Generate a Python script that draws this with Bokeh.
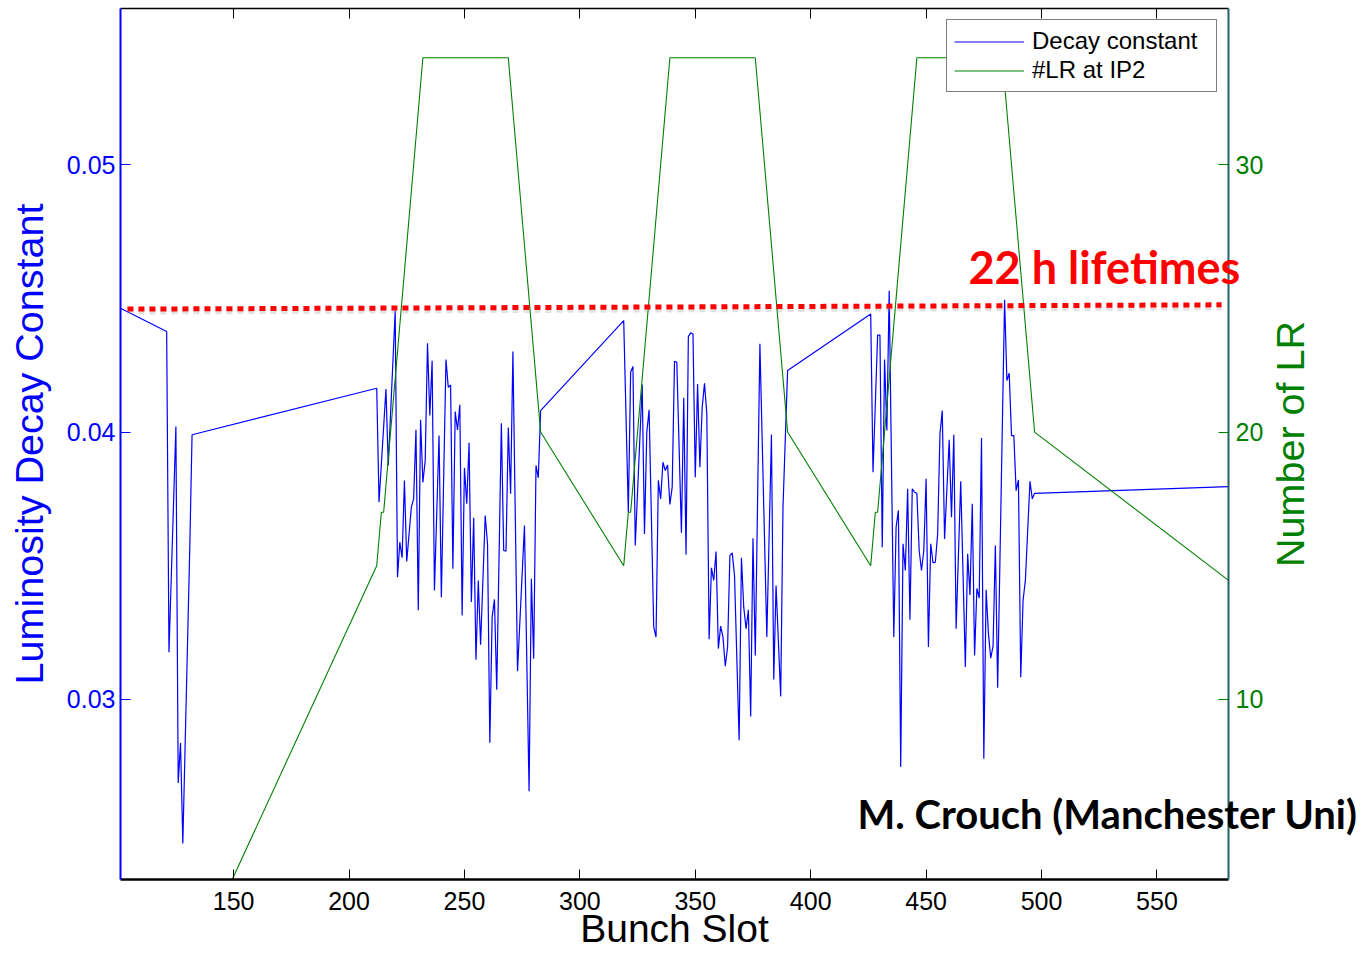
import math
from bokeh.plotting import figure
from bokeh.layouts import row
from bokeh.models import (Range1d, LinearAxis, FixedTicker, PrintfTickFormatter,
                          CustomJSTickFormatter, Legend, LegendItem, Label)
from bokeh.embed import file_html
from bokeh.resources import INLINE

# Luminosity decay constant per bunch slot
decay_slots = [
    101, 121, 122, 125, 126, 127, 128, 131, 132,
    212, 213, 216, 217, 220, 221, 222, 223, 224, 225, 227, 228, 229, 230, 231, 232,
    233, 234, 235, 236, 237, 239, 240, 242, 243, 244, 245, 246, 247, 248, 249, 250,
    251, 252, 253, 254, 255, 256, 257, 259, 260, 261, 262, 263, 264, 266, 267, 268,
    269, 270, 271, 273, 276, 278, 279, 280, 281, 282, 283,
    319, 321, 322, 323, 324, 327, 328, 329, 330, 332, 333, 334, 335, 336, 337, 338,
    339, 340, 341, 342, 344, 345, 346, 347, 348, 349, 350, 351, 352, 353, 354, 355,
    356, 357, 358, 359, 360, 361, 362, 363, 364, 365, 366, 367, 369, 370, 371, 372,
    373, 374, 375, 376, 378, 381, 383, 384, 385, 387, 388, 390,
    426, 427, 429, 430, 431, 432, 433, 434, 436, 437, 438, 439, 440, 441, 442, 443,
    444, 445, 446, 447, 448, 449, 450, 451, 452, 453, 454, 455, 456, 457, 458, 460,
    461, 462, 463, 465, 467, 468, 469, 470, 471, 472, 473, 474, 475, 476, 477, 478,
    479, 480, 481, 484, 485, 486, 487, 488, 489, 490, 491, 492, 493, 495, 496, 497,
    581,
]
decay_values = [
    0.04463, 0.04376, 0.03176, 0.04021, 0.02687, 0.02837, 0.02461, 0.03563, 0.03990,
    0.04164, 0.03738, 0.04161, 0.03875, 0.04454, 0.03457, 0.03588, 0.03530, 0.03819,
    0.03516, 0.03719, 0.03751, 0.04009, 0.03333, 0.04046, 0.03812, 0.03893, 0.04332,
    0.04062, 0.04267, 0.03407, 0.03987, 0.03382, 0.04271, 0.04167, 0.04176, 0.03489,
    0.04077, 0.04008, 0.04102, 0.03314, 0.03866, 0.03732, 0.03960, 0.03364, 0.03679,
    0.03148, 0.03445, 0.03204, 0.03688, 0.03582, 0.02838, 0.03308, 0.03374, 0.03036,
    0.04033, 0.03557, 0.03554, 0.04017, 0.03769, 0.04301, 0.03105, 0.03650, 0.02656,
    0.03451, 0.03152, 0.03875, 0.03829, 0.04080,
    0.04417, 0.03700, 0.04224, 0.04245, 0.03576, 0.04178, 0.03619, 0.04000, 0.04083,
    0.03270, 0.03233, 0.03819, 0.03750, 0.03887, 0.03856, 0.03877, 0.03729, 0.03794,
    0.04265, 0.04261, 0.03623, 0.04128, 0.03541, 0.04357, 0.04371, 0.04367, 0.03831,
    0.04180, 0.03868, 0.04093, 0.04182, 0.04068, 0.03225, 0.03492, 0.03445, 0.03553,
    0.03190, 0.03274, 0.03233, 0.03124, 0.03196, 0.03538, 0.03548, 0.03464, 0.02847,
    0.03530, 0.03345, 0.03264, 0.03335, 0.02936, 0.03603, 0.03164, 0.04330, 0.03233,
    0.03991, 0.03074, 0.03426, 0.03011, 0.03719, 0.04230,
    0.04442, 0.03850, 0.04363, 0.04363, 0.03569, 0.04271, 0.04006, 0.04529, 0.03233,
    0.03644, 0.03707, 0.02747, 0.03582, 0.03482, 0.03788, 0.03298, 0.03788, 0.03775,
    0.03771, 0.03557, 0.03482, 0.03557, 0.03825, 0.03196, 0.03582, 0.03510, 0.03513,
    0.03619, 0.03993, 0.04080, 0.03600, 0.03971, 0.03681, 0.03990, 0.03264, 0.03816,
    0.03121, 0.03545, 0.03391, 0.03732, 0.03164, 0.03415, 0.03379, 0.03978, 0.02778,
    0.03410, 0.03246, 0.03154, 0.03199, 0.03576, 0.03044, 0.04495, 0.04193, 0.04220,
    0.03987, 0.03987, 0.03781, 0.03821, 0.03083, 0.03370, 0.03445, 0.03816, 0.03750,
    0.03771,
    0.03796,
]

# Number of long-range encounters at IP2
lr_slots = [122, 132, 212, 214, 215, 232, 269, 283, 319, 321, 322, 339, 376, 390,
            426, 428, 429, 446, 483, 497, 581]
lr_values = [0, 0, 15, 17, 17, 34, 34, 20, 15, 17, 17, 34, 34, 20,
             15, 17, 17, 34, 34, 20, 14.45]

# 22 h lifetime reference level
ref_slots = [104, 578]
ref_decay = [0.04460, 0.04476]

x_ticks = [150, 200, 250, 300, 350, 400, 450, 500, 550]
decay_ticks = [0.03, 0.04, 0.05]
lr_ticks = [10, 20, 30]

FONT = "Liberation Sans"
W, H = 1365, 953
TOP, BOTTOM = 8, 74

p = figure(width=W, height=H,
           x_range=Range1d(101, 581), y_range=Range1d(0.023262, 0.055845),
           output_backend="svg", toolbar_location=None,
           min_border_left=120, min_border_right=137,
           min_border_top=TOP, min_border_bottom=BOTTOM)
p.extra_y_ranges = {"lr": Range1d(3.262, 35.845)}
p.xgrid.visible = False
p.ygrid.visible = False
p.outline_line_color = None
p.background_fill_color = "white"
p.border_fill_color = "white"

# bottom axis
xa = p.xaxis[0]
xa.ticker = FixedTicker(ticks=x_ticks)
xa.axis_line_color = "black"
xa.axis_line_width = 2.5
xa.major_tick_line_color = "black"
xa.major_tick_in = 10
xa.major_tick_out = 0
xa.minor_tick_line_color = None
xa.major_label_text_font = FONT
xa.major_label_text_font_size = "25px"
xa.major_label_text_color = "black"
xa.major_label_standoff = 12
xa.axis_label = "Bunch Slot"
xa.axis_label_text_font = FONT
xa.axis_label_text_font_size = "39px"
xa.axis_label_text_font_style = "normal"
xa.axis_label_text_color = "black"
xa.axis_label_standoff = -6

# left axis (decay constant)
ya = p.yaxis[0]
ya.ticker = FixedTicker(ticks=decay_ticks)
ya.formatter = PrintfTickFormatter(format="%.2f")
ya.axis_line_color = "blue"
ya.axis_line_width = 2
ya.major_tick_line_color = "blue"
ya.major_tick_in = 10
ya.major_tick_out = 0
ya.minor_tick_line_color = None
ya.major_label_text_font = FONT
ya.major_label_text_font_size = "25px"
ya.major_label_text_color = "blue"
ya.major_label_standoff = 5
ya.axis_label = "Luminosity Decay Constant"
ya.axis_label_text_font = FONT
ya.axis_label_text_font_size = "39.5px"
ya.axis_label_text_font_style = "normal"
ya.axis_label_text_color = "blue"
ya.axis_label_standoff = 13

# right axis (number of long-range encounters); its title is drawn upright below
ra = LinearAxis(y_range_name="lr", ticker=FixedTicker(ticks=lr_ticks))
ra.axis_line_color = "#206068"
ra.axis_line_width = 2
ra.major_tick_line_color = "green"
ra.major_tick_in = 10
ra.major_tick_out = 0
ra.minor_tick_line_color = None
ra.major_label_text_font = FONT
ra.major_label_text_font_size = "25px"
ra.major_label_text_color = "green"
ra.major_label_standoff = 7
p.add_layout(ra, "right")

# top frame edge with inward ticks
ta = LinearAxis(ticker=FixedTicker(ticks=x_ticks),
                formatter=CustomJSTickFormatter(code="return ''"))
ta.axis_line_color = "black"
ta.axis_line_width = 1.5
ta.major_tick_line_color = "black"
ta.major_tick_in = 10
ta.major_tick_out = 0
ta.minor_tick_line_color = None
ta.major_label_standoff = 0
p.add_layout(ta, "above")

# data
decay_line = p.line(decay_slots, decay_values, line_color="blue", line_width=1.2)
lr_line = p.line(lr_slots, lr_values, line_color="green", line_width=1.1,
                 y_range_name="lr")

# reference level with soft shadow
shadow = [v - 0.00011 for v in ref_decay]
p.line(ref_slots, shadow, line_color="#9a9a9a", line_alpha=0.3, line_width=5,
       line_dash="6 5", line_cap="butt")
p.line(ref_slots, ref_decay, line_color="red", line_width=5,
       line_dash="6 5", line_cap="butt")

legend = Legend(items=[LegendItem(label="Decay constant", renderers=[decay_line]),
                       LegendItem(label="#LR at IP2", renderers=[lr_line])],
                location="top_right")
legend.margin = 11
legend.padding = 7
legend.spacing = 1
legend.glyph_width = 70
legend.glyph_height = 25
legend.label_height = 25
legend.label_width = 177
legend.label_standoff = 8
legend.label_text_font = FONT
legend.label_text_font_size = "24px"
legend.label_text_color = "black"
legend.border_line_color = "black"
legend.border_line_width = 1.2
legend.background_fill_color = "white"
legend.background_fill_alpha = 1.0
p.add_layout(legend)

# transparent layer laid over the chart for texts that cross the frame edge;
# its coordinates are page pixels (y downwards)
notes = figure(width=W, height=H, x_range=Range1d(0, W),
               y_range=Range1d(H - BOTTOM, TOP),
               x_axis_type=None, y_axis_type=None,
               min_border_left=0, min_border_right=0,
               min_border_top=TOP, min_border_bottom=BOTTOM,
               output_backend="svg", toolbar_location=None)
notes.outline_line_color = None
notes.background_fill_alpha = 0
notes.border_fill_alpha = 0
notes.grid.visible = False
notes.margin = (0, 0, 0, -W)

notes.add_layout(Label(x=1289, y=443.5, text="Number of LR", angle=math.pi / 2,
                       text_font=FONT, text_font_size="39.5px", text_color="green",
                       text_align="center", text_baseline="middle"))
notes.add_layout(Label(x=968, y=266.5, text="22 h lifetimes",
                       text_font="Lato", text_font_style="bold",
                       text_font_size="45px", text_color="red",
                       text_baseline="alphabetic"))
notes.add_layout(Label(x=857, y=813, text="M. Crouch (Manchester Uni)",
                       text_font="Lato", text_font_style="bold",
                       text_font_size="40px", text_color="black",
                       text_baseline="alphabetic"))

page = row(p, notes, spacing=0)
open("out.html", "w").write(file_html(page, INLINE))
